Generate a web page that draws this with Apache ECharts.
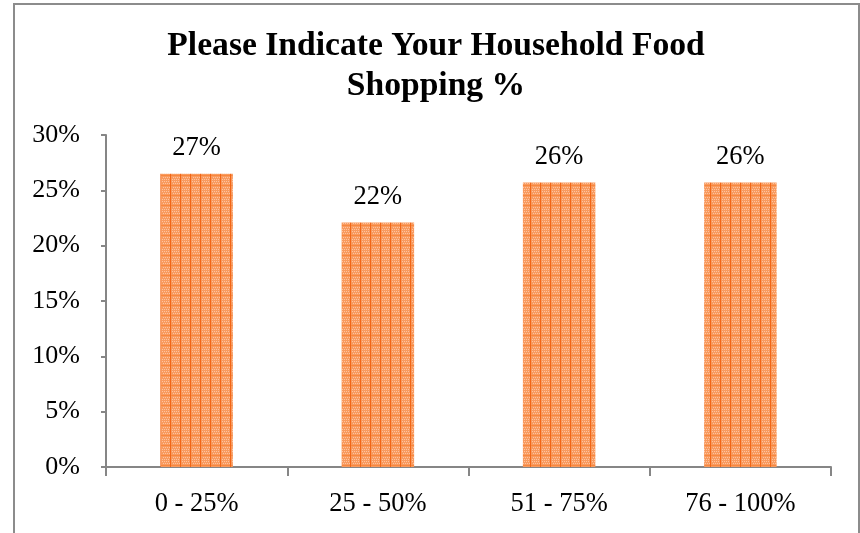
<!DOCTYPE html>
<html>
<head>
<meta charset="utf-8">
<script src="https://cdn.jsdelivr.net/npm/echarts@6/dist/echarts.min.js"></script>
<style>
  html, body { margin: 0; padding: 0; background: #fff; }
  #chart { width: 860px; height: 533px; }
</style>
</head>
<body>
<div id="chart"></div>
<script>
// Share of household food shopping, by range
const categories = ['0 - 25%', '25 - 50%', '51 - 75%', '76 - 100%'];
const shares = [26.5, 22.1, 25.7, 25.7];
const yTicks = [0, 5, 10, 15, 20, 25, 30];

// Orange cross-hatch fill used for the bars
function hatchPattern() {
  const c = document.createElement('canvas');
  c.width = 10; c.height = 10;
  const g = c.getContext('2d');
  g.fillStyle = '#f99a5e';
  g.fillRect(0, 0, 10, 10);
  g.fillStyle = '#fcc3a0';
  for (let y = 1; y < 10; y += 2) {
    for (let x = 2 + (y % 4 === 1 ? 0 : 1); x < 10; x += 2) g.fillRect(x, y, 1, 1);
  }
  g.fillStyle = '#f7883f';
  g.fillRect(0, 5, 10, 1);
  g.fillStyle = '#f26616';
  g.fillRect(0, 0, 1, 10);
  return c;
}

const serif = '"Liberation Serif", "Times New Roman", serif';
const chart = echarts.init(document.getElementById('chart'), null, { renderer: 'canvas' });

chart.setOption({
  animation: false,
  title: {
    text: 'Please Indicate Your Household Food\nShopping %',
    left: 431,
    textAlign: 'center',
    top: 21,
    textStyle: { fontFamily: serif, fontWeight: 'bold', fontSize: 33.6, lineHeight: 40, color: '#000' }
  },
  graphic: [{
    type: 'rect',
    shape: { x: 14, y: 4, width: 845, height: 540 },
    style: { fill: 'none', stroke: '#8c8c8c', lineWidth: 2 },
    silent: true
  }],
  grid: { left: 106, right: 29, top: 135, bottom: 66 },
  xAxis: {
    type: 'category',
    data: categories,
    axisLine: { lineStyle: { color: '#868686', width: 2 } },
    axisTick: { show: true, length: 9, alignWithLabel: false, lineStyle: { color: '#868686', width: 2 } },
    axisLabel: { fontFamily: serif, fontSize: 26.5, color: '#000', margin: 24 }
  },
  yAxis: {
    type: 'value',
    min: yTicks[0],
    max: yTicks[yTicks.length - 1],
    interval: 5,
    splitLine: { show: false },
    axisLine: { show: true, lineStyle: { color: '#868686', width: 2 } },
    axisTick: { show: true, length: 5, lineStyle: { color: '#868686', width: 2 } },
    axisLabel: { fontFamily: serif, fontSize: 26, color: '#000', margin: 26, formatter: v => v + '%' }
  },
  series: [{
    type: 'bar',
    data: shares,
    barWidth: '40%',
    itemStyle: { color: { image: hatchPattern(), repeat: 'repeat' } },
    label: {
      show: true,
      position: 'top',
      distance: 12,
      fontFamily: serif,
      fontSize: 26.5,
      color: '#000',
      formatter: p => Math.round(p.value) + '%'
    }
  }]
});
</script>
</body>
</html>
